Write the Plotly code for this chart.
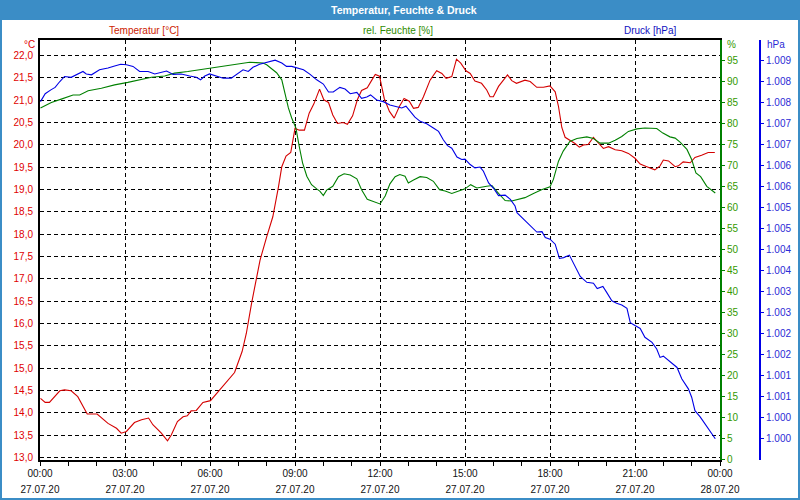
import pandas as pd
import plotly.graph_objects as go

# ---------------- data (minutes after 27.07.20 00:00) ----------------
temp_min = [1, 11, 20, 42, 52, 66, 80, 100, 121, 144, 162, 172, 183, 200, 215, 230, 239, 257, 270, 278,
            291, 303, 312, 320, 331, 345, 361, 380, 395, 412, 428, 437, 448, 466, 480, 493, 505, 512, 521,
            531, 540, 549, 560, 570, 580, 592, 601, 611, 620, 630, 642, 651, 662, 672, 681, 693, 702, 710,
            719, 729, 740, 750, 761, 771, 782, 791, 801, 812, 826, 840, 851, 860, 872, 882, 891, 902, 911,
            921, 935, 946, 953, 960, 971, 990, 999, 1009, 1027, 1038, 1052, 1066, 1080, 1091, 1098, 1105,
            1112, 1124, 1133, 1142, 1151, 1161, 1172, 1180, 1193, 1204, 1218, 1232, 1246, 1260, 1271, 1285,
            1302, 1313, 1320, 1331, 1345, 1352, 1362, 1377, 1387, 1401, 1415, 1429]
temp_val = [14.32, 14.23, 14.23, 14.49, 14.51, 14.49, 14.36, 13.97, 13.97, 13.76, 13.65, 13.54, 13.58,
            13.78, 13.84, 13.88, 13.73, 13.54, 13.37, 13.50, 13.80, 13.91, 13.93, 14.04, 14.05, 14.23,
            14.27, 14.51, 14.71, 14.90, 15.37, 15.78, 16.45, 17.42, 17.94, 18.39, 19.06, 19.51, 19.75,
            19.83, 20.37, 20.33, 20.33, 20.71, 20.92, 21.25, 21.01, 20.95, 20.67, 20.48, 20.50, 20.46,
            20.65, 21.01, 21.22, 21.28, 21.44, 21.58, 21.54, 21.04, 20.75, 20.60, 20.86, 21.04, 20.98,
            20.82, 20.84, 21.08, 21.45, 21.66, 21.60, 21.49, 21.53, 21.92, 21.83, 21.66, 21.60, 21.43,
            21.38, 21.23, 21.08, 21.08, 21.31, 21.57, 21.44, 21.38, 21.45, 21.42, 21.29, 21.29, 21.32,
            21.19, 20.86, 20.39, 20.17, 20.09, 20.03, 19.95, 20.00, 20.01, 20.17, 20.07, 19.92, 19.96,
            19.89, 19.87, 19.81, 19.70, 19.57, 19.51, 19.44, 19.53, 19.66, 19.64, 19.51, 19.53, 19.62,
            19.60, 19.72, 19.77, 19.83, 19.83]

hum_min = [1, 24, 45, 70, 84, 102, 130, 158, 186, 208, 236, 264, 285, 313, 342, 363, 391, 419, 444, 458,
           472, 480, 491, 501, 512, 519, 526, 533, 542, 549, 556, 565, 575, 586, 593, 600, 607, 620, 632,
           644, 657, 671, 681, 693, 710, 720, 731, 741, 752, 762, 773, 780, 791, 805, 819, 833, 846, 858,
           872, 886, 900, 912, 925, 946, 957, 971, 985, 999, 1013, 1027, 1045, 1062, 1080, 1087, 1098,
           1108, 1122, 1137, 1158, 1172, 1186, 1204, 1218, 1232, 1246, 1264, 1281, 1306, 1319, 1334, 1345,
           1356, 1370, 1380, 1389, 1399, 1412, 1430]
hum_val = [83.8, 85.1, 85.9, 86.9, 86.9, 87.9, 88.5, 89.3, 89.9, 90.5, 91.1, 91.4, 92.1, 92.5, 93.0,
           93.3, 93.8, 94.3, 94.7, 94.6, 94.5, 94.1, 93.0, 92.2, 90.5, 87.3, 83.8, 81.4, 79.0, 74.6, 70.7,
           67.5, 65.5, 64.5, 63.9, 62.9, 64.2, 65.1, 67.4, 68.1, 67.8, 66.9, 64.3, 62.0, 61.3, 60.9, 62.8,
           65.7, 67.4, 67.9, 67.5, 65.9, 66.6, 67.4, 67.2, 66.3, 64.3, 64.0, 63.4, 63.9, 64.5, 65.5, 64.7,
           65.1, 65.3, 63.4, 61.7, 61.6, 62.0, 62.4, 63.4, 64.3, 65.0, 66.7, 71.1, 73.5, 75.8, 76.5, 76.9,
           76.5, 75.4, 75.4, 76.1, 77.0, 78.2, 78.8, 79.0, 78.9, 77.8, 76.9, 76.6, 75.6, 73.9, 71.5, 68.3,
           67.4, 65.1, 63.5]

pres_min = [1, 11, 23, 32, 42, 52, 66, 77, 91, 98, 109, 126, 144, 158, 171, 183, 197, 211, 229, 243,
            257, 268, 282, 299, 317, 331, 340, 349, 359, 373, 388, 405, 419, 430, 441, 451, 465, 480, 498,
            512, 522, 533, 544, 558, 572, 586, 600, 611, 621, 635, 646, 657, 671, 681, 692, 700, 713, 727,
            741, 755, 766, 775, 784, 794, 805, 819, 833, 844, 854, 863, 872, 883, 893, 900, 911, 921, 932,
            939, 950, 960, 971, 985, 996, 1006, 1010, 1024, 1038, 1052, 1063, 1070, 1080, 1091, 1100, 1109,
            1121, 1133, 1144, 1158, 1172, 1180, 1192, 1200, 1211, 1221, 1232, 1243, 1250, 1260, 1271, 1281,
            1296, 1306, 1313, 1320, 1331, 1349, 1359, 1373, 1380, 1387, 1398, 1412, 1430]
pres_val = [1008.03, 1008.22, 1008.31, 1008.37, 1008.51, 1008.63, 1008.61, 1008.67, 1008.75, 1008.69,
            1008.67, 1008.79, 1008.83, 1008.88, 1008.92, 1008.91, 1008.87, 1008.75, 1008.75, 1008.69,
            1008.73, 1008.76, 1008.68, 1008.69, 1008.64, 1008.61, 1008.55, 1008.64, 1008.69, 1008.64,
            1008.59, 1008.59, 1008.71, 1008.79, 1008.75, 1008.85, 1008.92, 1008.97, 1009.02, 1008.95,
            1008.87, 1008.87, 1008.83, 1008.79, 1008.68, 1008.55, 1008.45, 1008.26, 1008.26, 1008.37,
            1008.33, 1008.22, 1008.25, 1008.11, 1008.14, 1008.19, 1008.07, 1008.03, 1007.95, 1007.92,
            1007.88, 1007.92, 1007.80, 1007.66, 1007.56, 1007.50, 1007.40, 1007.32, 1007.12, 1006.98,
            1006.92, 1006.71, 1006.65, 1006.66, 1006.53, 1006.45, 1006.47, 1006.37, 1006.09, 1005.97,
            1005.79, 1005.80, 1005.70, 1005.54, 1005.38, 1005.22, 1005.06, 1004.92, 1004.93, 1004.79,
            1004.75, 1004.63, 1004.29, 1004.31, 1004.37, 1004.11, 1003.86, 1003.72, 1003.70, 1003.57,
            1003.62, 1003.48, 1003.28, 1003.22, 1003.18, 1003.10, 1002.76, 1002.69, 1002.62, 1002.41,
            1002.29, 1002.13, 1001.93, 1001.96, 1001.85, 1001.69, 1001.42, 1001.18, 1000.98, 1000.66,
            1000.51, 1000.27, 999.99]

x_tick_times = ["2020-07-27 00:00", "2020-07-27 03:00", "2020-07-27 06:00", "2020-07-27 09:00",
                "2020-07-27 12:00", "2020-07-27 15:00", "2020-07-27 18:00", "2020-07-27 21:00",
                "2020-07-28 00:00"]
x_tick_hours = ["00:00", "03:00", "06:00", "09:00", "12:00", "15:00", "18:00", "21:00", "00:00"]
x_tick_dates = ["27.07.20"] * 8 + ["28.07.20"]

temp_ticks = [13.0 + 0.5 * i for i in range(19)]
hum_ticks = list(range(0, 100, 5))
pres_ticks = [1000.0 + 0.5 * i for i in range(19)]
pres_ticktext = ["1.000", "1.000", "1.001", "1.001", "1.002", "1.002", "1.003", "1.003", "1.004",
                 "1.004", "1.005", "1.005", "1.006", "1.006", "1.007", "1.007", "1.008", "1.008", "1.009"]

# ---------------- figure ----------------
base = pd.Timestamp("2020-07-27")
def to_dt(mins):
    return list(base + pd.to_timedelta(mins, unit="min"))

FONT = "Liberation Sans"
RED, GREEN, BLUE = "#d40000", "#008000", "#0000e6"
RED_T, GREEN_T, BLUE_T = "#e00000", "#339900", "#2b2bd6"
FRAME = "#3b8dc6"

fig = go.Figure()
fig.add_trace(go.Scatter(x=to_dt(hum_min), y=hum_val, mode="lines", xaxis="x", yaxis="y2",
                         line=dict(color=GREEN, width=1.1), hoverinfo="skip"))
fig.add_trace(go.Scatter(x=to_dt(pres_min), y=pres_val, mode="lines", xaxis="x", yaxis="y3",
                         line=dict(color=BLUE, width=1.1), hoverinfo="skip"))
fig.add_trace(go.Scatter(x=to_dt(temp_min), y=temp_val, mode="lines", xaxis="x", yaxis="y",
                         line=dict(color=RED, width=1.1), hoverinfo="skip"))

xr = ["2020-07-27 00:00", "2020-07-28 00:00"]
DOM = 680 / 720
span = "<span style='font-size:10px'>{}</span>"
x_ticktext = [span.format(h) + "<br>" + span.format(d) for h, d in zip(x_tick_hours, x_tick_dates)]

fig.update_layout(
    width=800, height=500,
    margin=dict(l=40, r=40, t=40, b=40),
    paper_bgcolor="white", plot_bgcolor="white",
    showlegend=False,
    separators=",.",
    font=dict(family=FONT, size=10, color="#000000"),
    xaxis=dict(type="date", range=xr, domain=[0, DOM], tickvals=x_tick_times, ticktext=x_ticktext,
               showgrid=True, gridcolor="black", gridwidth=1, griddash="4px,3px",
               showline=True, linecolor="black", linewidth=2, mirror=True,
               ticks="outside", ticklen=4, tickcolor="black", tickwidth=1,
               minor=dict(dtick=3600000, ticks="outside", ticklen=4, tickcolor="black", showgrid=False),
               tickfont=dict(family=FONT, size=12.3, color="#111111"),
               ticklabelstandoff=-4, zeroline=False, automargin=False),
    yaxis=dict(range=[12.94, 22.35], tickvals=temp_ticks, tickformat=".1f",
               showgrid=True, gridcolor="black", gridwidth=1, griddash="4px,3px",
               showline=True, linecolor="black", linewidth=2, ticks="",
               tickfont=dict(family=FONT, size=10, color=RED_T), ticklabelstandoff=3,
               zeroline=False, automargin=False),
    yaxis2=dict(range=[-0.17, 100], overlaying="y", side="right", anchor="x", tickvals=hum_ticks,
                showgrid=False, showline=True, linecolor=GREEN, linewidth=2,
                ticks="outside", ticklen=3, tickcolor=GREEN,
                tickfont=dict(family=FONT, size=10, color=GREEN_T), zeroline=False, automargin=False),
    yaxis3=dict(range=[999.483, 1009.5], overlaying="y", side="right", anchor="free", position=1.0,
                tickvals=pres_ticks, ticktext=pres_ticktext,
                showgrid=False, showline=True, linecolor=BLUE, linewidth=2,
                ticks="outside", ticklen=3, tickcolor=BLUE,
                tickfont=dict(family=FONT, size=10, color=BLUE_T), zeroline=False, automargin=False),
)

def px_x(px):
    return (px - 40) / 720

def px_y(py):
    return (460 - py) / 420

shapes = [
    dict(type="rect", xref="paper", yref="paper", x0=px_x(0), x1=px_x(800), y0=px_y(20), y1=px_y(0),
         fillcolor=FRAME, line=dict(width=0), layer="above"),
    dict(type="rect", xref="paper", yref="paper", x0=px_x(1), x1=px_x(799), y0=px_y(499), y1=px_y(1),
         fillcolor="rgba(0,0,0,0)", line=dict(color=FRAME, width=2), layer="above"),
]
fig.update_layout(shapes=shapes)

anns = [
    dict(text="<b>Temperatur, Feuchte & Druck</b>", x=px_x(404), y=px_y(10), font=dict(color="white", size=10.5),
         xanchor="center", yanchor="middle"),
    dict(text="Temperatur [°C]", x=px_x(144), y=px_y(30), font=dict(color="#cc2200", size=10),
         xanchor="center", yanchor="middle"),
    dict(text="rel. Feuchte [%]", x=px_x(398), y=px_y(30), font=dict(color="#2e8b00", size=10),
         xanchor="center", yanchor="middle"),
    dict(text="Druck [hPa]", x=px_x(650), y=px_y(30), font=dict(color="#1010c0", size=10),
         xanchor="center", yanchor="middle"),
    dict(text="°C", x=px_x(37), y=px_y(45), font=dict(color=RED_T, size=10),
         xanchor="right", yanchor="middle"),
    dict(text="%", x=px_x(725), y=px_y(45), font=dict(color=GREEN_T, size=10),
         xanchor="left", yanchor="middle"),
    dict(text="hPa", x=px_x(765), y=px_y(45), font=dict(color=BLUE_T, size=10),
         xanchor="left", yanchor="middle"),
]
for a in anns:
    a.update(xref="paper", yref="paper", showarrow=False)
fig.update_layout(annotations=anns)

fig.write_html("out.html")
